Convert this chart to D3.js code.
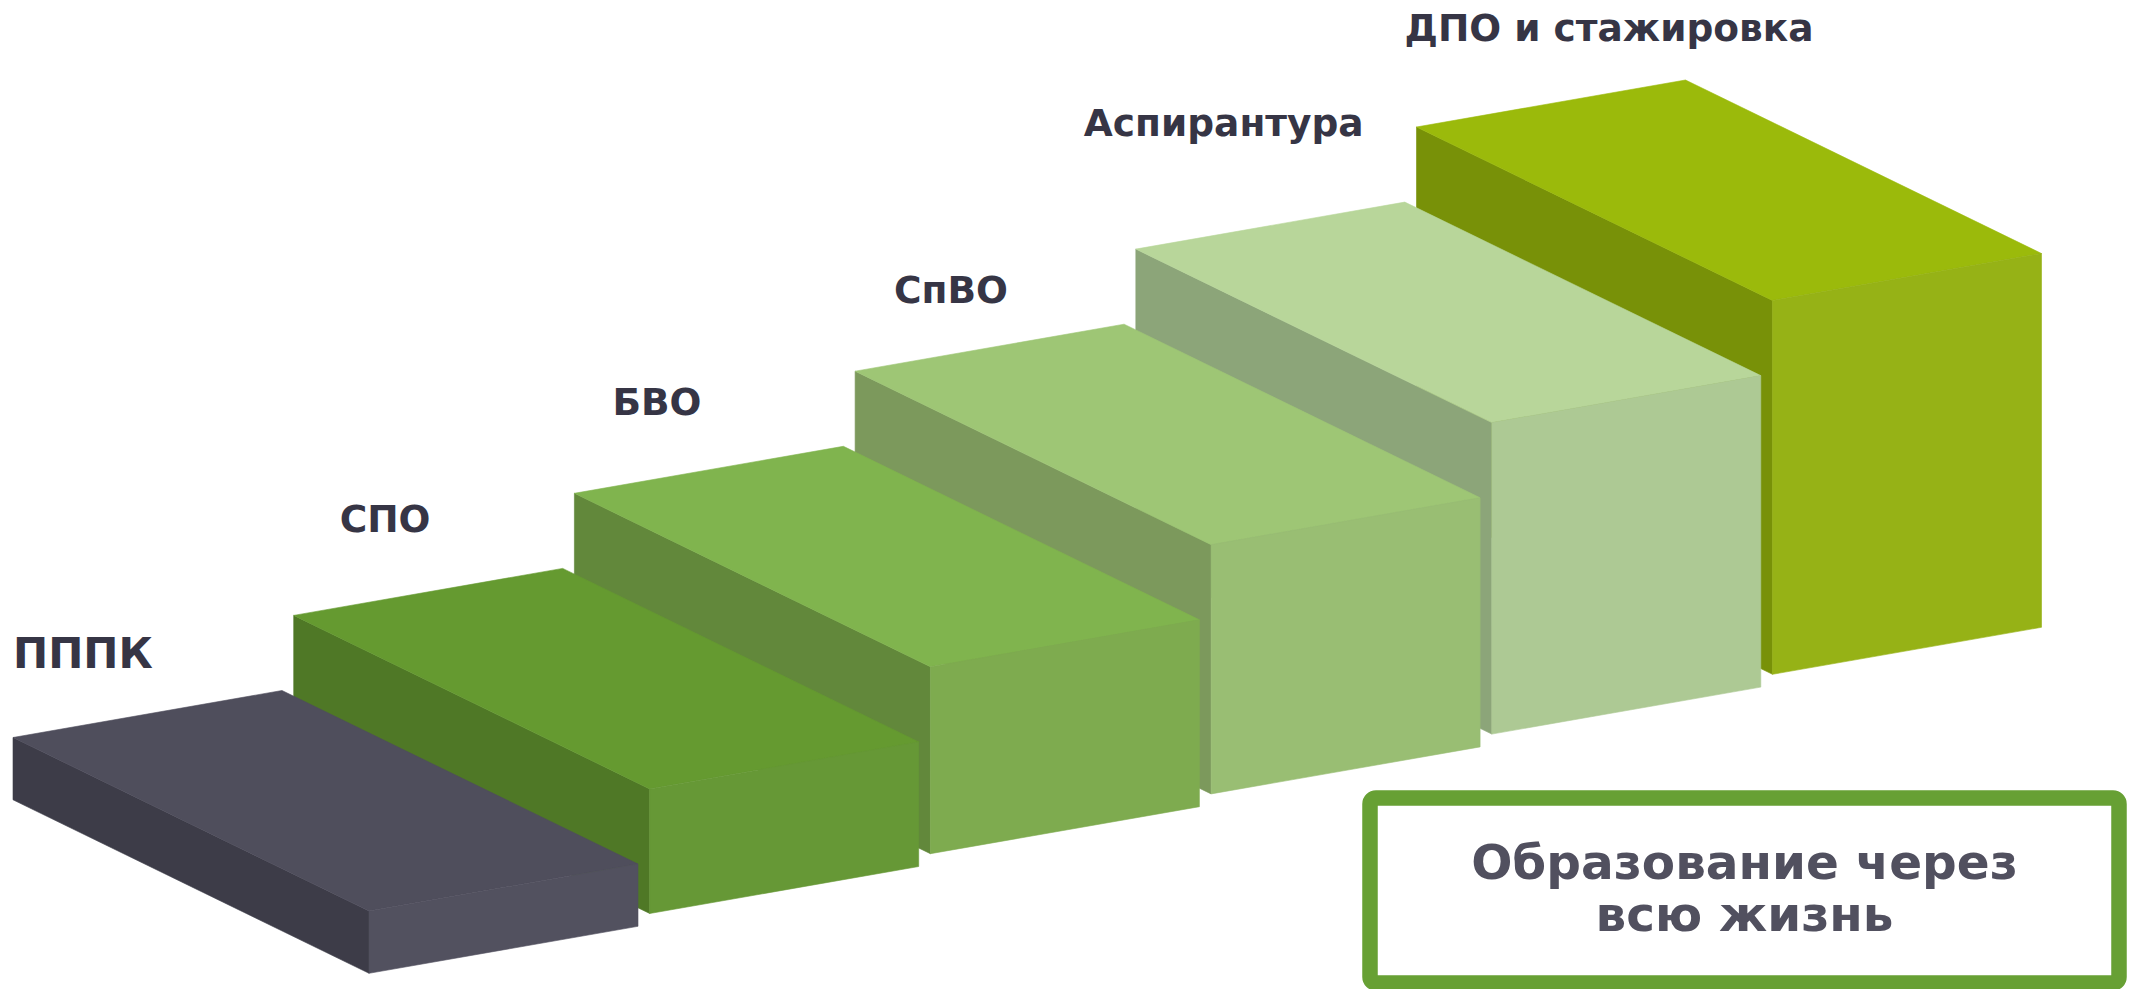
<!DOCTYPE html>
<html>
<head>
<meta charset="utf-8">
<script src="https://cdn.jsdelivr.net/npm/d3@7"></script>
<style>
  html, body { margin: 0; padding: 0; background: #ffffff; }
  svg { display: block; }
</style>
</head>
<body>
<svg id="chart" width="2134" height="989"></svg>
<script>
// ---- data ----
const categories = ["ПППК", "СПО", "БВО", "СпВО", "Аспирантура", "ДПО и стажировка"];
const levels = [1, 2, 3, 4, 5, 6];               // step height (education level)
const topColors   = ["#4f4e5c", "#659a30", "#80b44e", "#9ec675", "#b8d69a", "#9bba0b"];
const frontColors = ["#52515f", "#669836", "#7eab4f", "#99be73", "#adc994", "#96b216"];
const sideColors  = ["#3d3c48", "#4f7826", "#62883b", "#7c995c", "#8ca579", "#789108"];
const legendLines = ["Образование через", "всю жизнь"];

// ---- layout (styles / geometry) ----
const W = 2134, H = 989;
const widthVec = [269, -47];     // front face width direction
const depthVec = [-356, -173.5]; // depth direction (towards back-left)
const labelDx = [0, 46, 38, 39, -52, -12];
const labelDy = [-70, -83, -78, -68, -113, -86];

const svg = d3.select("#chart");

// scales
const xScale = d3.scalePoint().domain(categories).range([369, 1772.5]);
const baseScale = d3.scalePoint().domain(categories).range([973.3, 674.3]);
const hScale = d3.scaleLinear().domain([0, 6]).range([0, 373.8]);

const data = categories.map((c, i) => ({
  cat: c, level: levels[i], i,
  top: topColors[i], front: frontColors[i], side: sideColors[i]
}));

const line = pts => "M" + pts.map(p => p[0].toFixed(2) + "," + p[1].toFixed(2)).join("L") + "Z";

const boxes = svg.append("g").attr("class", "steps")
  .selectAll("g.step")
  .data(data.slice().reverse())
  .join("g").attr("class", "step");

function geom(d) {
  const x = xScale(d.cat), yb = baseScale(d.cat), h = hScale(d.level);
  const F = [x, yb - h];
  const Fb = [x, yb];
  const R = [F[0] + widthVec[0], F[1] + widthVec[1]];
  const Rb = [Fb[0] + widthVec[0], Fb[1] + widthVec[1]];
  const L = [F[0] + depthVec[0], F[1] + depthVec[1]];
  const Lb = [L[0], L[1] + h];
  const B = [L[0] + widthVec[0], L[1] + widthVec[1]];
  return { F, Fb, R, Rb, L, Lb, B };
}

boxes.append("path").attr("d", d => { const g = geom(d); return line([g.L, g.F, g.Fb, g.Lb]); })
  .attr("fill", d => d.side).attr("stroke", d => d.side).attr("stroke-width", 0.6).attr("stroke-linejoin", "round");
boxes.append("path").attr("d", d => { const g = geom(d); return line([g.L, g.B, g.R, g.F]); })
  .attr("fill", d => d.top).attr("stroke", d => d.top).attr("stroke-width", 0.6).attr("stroke-linejoin", "round");
boxes.append("path").attr("d", d => { const g = geom(d); return line([g.F, g.R, g.Rb, g.Fb]); })
  .attr("fill", d => d.front).attr("stroke", d => d.front).attr("stroke-width", 0.6).attr("stroke-linejoin", "round");

// labels
svg.append("g").attr("class", "labels")
  .selectAll("text")
  .data(data)
  .join("text")
  .attr("x", d => geom(d).L[0] + labelDx[d.i])
  .attr("y", d => geom(d).L[1] + labelDy[d.i])
  .attr("font-family", "'DejaVu Sans', Verdana, sans-serif")
  .attr("font-weight", "bold")
  .attr("font-size", d => d.i === 0 ? 42 : 37.5)
  .attr("fill", "#363545")
  .text(d => d.cat);

// legend box
const lg = svg.append("g").attr("class", "legend");
lg.append("rect")
  .attr("x", 1370).attr("y", 798)
  .attr("width", 749).attr("height", 185)
  .attr("rx", 6).attr("ry", 6)
  .attr("fill", "#ffffff")
  .attr("stroke", "#67a034")
  .attr("stroke-width", 15.5);
lg.selectAll("text")
  .data(legendLines)
  .join("text")
  .attr("x", 1744.5)
  .attr("y", (d, i) => 879 + i * 51.5)
  .attr("text-anchor", "middle")
  .attr("font-family", "'DejaVu Sans', Verdana, sans-serif")
  .attr("font-weight", "bold")
  .attr("font-size", 48.5)
  .attr("fill", "#51505f")
  .text(d => d);
</script>
</body>
</html>
